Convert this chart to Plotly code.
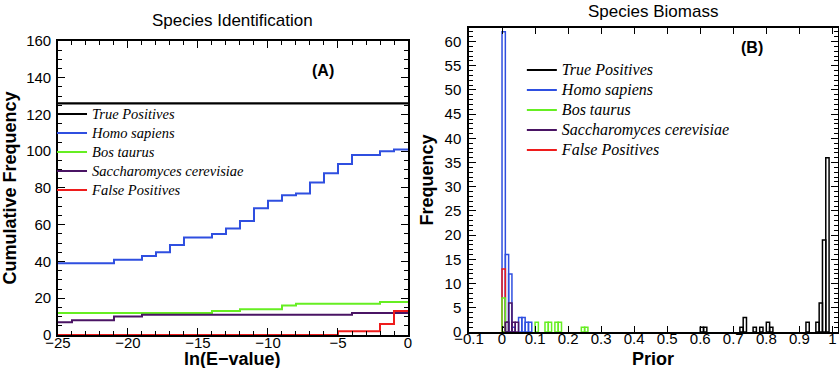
import plotly.graph_objects as go

# ---------------- Panel A data: cumulative frequency vs ln(E-value) ----------------
ln_evalue = [-25, -24, -23, -22, -21, -20, -19, -18, -17, -16, -15, -14, -13,
             -12, -11, -10, -9, -8, -7, -6, -5, -4, -3, -2, -1, 0]
cum_true_pos = [126] * 26
cum_homo = [39, 39, 39, 39, 41, 41, 43, 45, 49, 53, 53, 55, 58,
            62, 69, 73, 76, 77, 83, 88, 93, 98, 98, 100, 101, 101]
cum_bos = [12, 12, 12, 12, 12, 12, 12, 12, 12, 12, 12, 13, 13,
           14, 14, 14, 16, 17, 17, 17, 17, 17, 17, 18, 18, 18]
cum_sacch = [7, 8, 8, 8, 10, 10, 11, 11, 11, 11, 11, 11, 11,
             11, 11, 11, 11, 11, 11, 11, 11, 12, 12, 12, 12, 12]
cum_false_pos = [0, 0, 0, 0, 0, 0, 0, 0, 0, 0, 0, 0, 0,
                 0, 0, 0, 0, 0, 0, 0, 2, 2, 2, 6, 13, 13]

# ---------------- Panel B data: histogram of priors (bin start, count), bin width 0.01 ----------------
bin_width = 0.01
tp_bins = [0.00, 0.01, 0.60, 0.61, 0.72, 0.73, 0.76, 0.78, 0.80, 0.81, 0.92, 0.95, 0.96, 0.97, 0.98]
tp_counts = [1, 2, 1, 1, 1, 3, 1, 1, 2, 1, 2, 2, 6, 19, 36]
homo_bins = [0.00, 0.01, 0.02, 0.03, 0.05, 0.06, 0.07, 0.08]
homo_counts = [62, 16, 12, 1, 3, 3, 2, 2]
bos_bins = [0.00, 0.10, 0.13, 0.14, 0.16, 0.17, 0.24, 0.25]
bos_counts = [7, 2, 2, 2, 2, 2, 1, 1]
sacch_bins = [0.01, 0.02, 0.03, 0.04]
sacch_counts = [2, 6, 2, 2]
fp_bins = [0.00]
fp_counts = [13]

names = ["True Positives", "Homo sapiens", "Bos taurus",
         "Saccharomyces cerevisiae", "False Positives"]
colors = ["#000000", "#2f4fe0", "#66ee22", "#4a1464", "#ee1c1c"]


def legend_label(text, px):
    # rendered size of the legend text (legend row spacing follows the legend font size)
    return '<span style="font-size:%gpx">%s</span>' % (px, text)


fig = go.Figure()

# Panel A step lines
for i, (nm, vals) in enumerate(zip(names, [cum_true_pos, cum_homo, cum_bos, cum_sacch, cum_false_pos])):
    fig.add_trace(go.Scatter(
        x=ln_evalue, y=vals, mode="lines", name=legend_label(nm, 14.5),
        line=dict(color=colors[i], width=2.2 if i == 0 else 2, shape="hv"),
        xaxis="x", yaxis="y", legend="legend", legendrank=i + 1,
        showlegend=True, hovertemplate=nm + ": %{y}<extra></extra>"))

# Panel B outlined histogram bars (draw order chosen to match overlaps)
hist = {
    0: (tp_bins, tp_counts),
    1: (homo_bins, homo_counts),
    4: (fp_bins, fp_counts),
    2: (bos_bins, bos_counts),
    3: (sacch_bins, sacch_counts),
}
for i, (b, c) in hist.items():
    fig.add_trace(go.Bar(
        x=b, y=c, width=bin_width, offset=0, name=names[i],
        marker=dict(color="rgba(0,0,0,0)", line=dict(color=colors[i], width=1.5)),
        xaxis="x2", yaxis="y2", showlegend=False, legendgroup="b%d" % i))
# legend entries for panel B (line symbols)
for i, nm in enumerate(names):
    fig.add_trace(go.Scatter(
        x=[None], y=[None], mode="lines", name=legend_label(nm, 16),
        line=dict(color=colors[i], width=2),
        xaxis="x2", yaxis="y2", legend="legend2", legendrank=i + 1,
        legendgroup="b%d" % i))

sans = "Liberation Sans, Arial, sans-serif"
serif = "Liberation Serif, Times New Roman, serif"

axis_common = dict(
    showline=True, linecolor="black", linewidth=1.5, mirror="ticks",
    ticks="inside", tickcolor="black", showgrid=False, zeroline=False,
    tickfont=dict(family=sans, size=15, color="black"),
    title_font=dict(family=sans, size=18, color="black", weight="bold"),
)

fig.update_layout(
    width=839, height=368,
    margin=dict(l=0, r=0, t=0, b=0, autoexpand=False),
    paper_bgcolor="white", plot_bgcolor="white",
    barmode="overlay",
    xaxis=dict(domain=[0.0691, 0.4863], range=[-25, 0], tick0=-25, dtick=5,
               ticklen=7, minor=dict(dtick=1, ticklen=4, ticks="inside", tickcolor="black"),
               ticklabelstandoff=-7, anchor="y", **axis_common),
    yaxis=dict(domain=[0.0897, 0.8886], range=[0, 160], dtick=20,
               ticklen=7, minor=dict(dtick=5, ticklen=4, ticks="inside", tickcolor="black"),
               title=dict(text="Cumulative Frequency", standoff=6), anchor="x",
               ticklabelstandoff=2, **axis_common),
    xaxis2=dict(domain=[0.559, 0.9988], range=[-0.1, 1.017], tick0=0, dtick=0.1,
                ticklen=6, ticklabelstandoff=-8, anchor="y2", **axis_common),
    yaxis2=dict(domain=[0.0978, 0.9239], range=[0, 62.8], dtick=5,
                ticklen=7, minor=dict(dtick=1, ticklen=4, ticks="inside", tickcolor="black"),
                title=dict(text="Frequency", standoff=6), anchor="x2",
                ticklabelstandoff=3, **axis_common),
    legend=dict(x=0.0620, xanchor="left", y=0.7296, yanchor="top",
                bgcolor="rgba(0,0,0,0)", borderwidth=0, tracegroupgap=0,
                font=dict(family=serif, size=11.8, color="black", style="italic")),
    legend2=dict(x=0.622, xanchor="left", y=0.8507, yanchor="top",
                 bgcolor="rgba(0,0,0,0)", borderwidth=0, tracegroupgap=0,
                 font=dict(family=serif, size=13.1, color="black", style="italic")),
    annotations=[
        dict(text="Species Identification", x=0.2777, y=0.943, xref="paper", yref="paper",
             xanchor="center", yanchor="middle",
             showarrow=False, font=dict(family=sans, size=17, color="black")),
        dict(text="Species Biomass", x=0.7783, y=1.0, xref="paper", yref="paper",
             xanchor="center", yanchor="top",
             showarrow=False, font=dict(family=sans, size=17, color="black")),
        dict(text="<b>ln(E\u2212value)</b>", x=0.2777, y=0.0245, xref="paper", yref="paper",
             xanchor="center", yanchor="middle",
             showarrow=False, font=dict(family=sans, size=18, color="black")),
        dict(text="<b>Prior</b>", x=0.7783, y=0.0245, xref="paper", yref="paper",
             xanchor="center", yanchor="middle",
             showarrow=False, font=dict(family=sans, size=18, color="black")),
        dict(text="<b>(A)</b>", x=-6.1, y=144.2, xref="x", yref="y",
             xanchor="center", yanchor="middle",
             showarrow=False, font=dict(family=sans, size=16, color="black")),
        dict(text="<b>(B)</b>", x=0.757, y=58.7, xref="x2", yref="y2",
             xanchor="center", yanchor="middle",
             showarrow=False, font=dict(family=sans, size=16, color="black")),
    ],
)

fig.write_html("out.html", config={"responsive": False, "displayModeBar": False},
               post_script="document.body.style.margin='0';")
